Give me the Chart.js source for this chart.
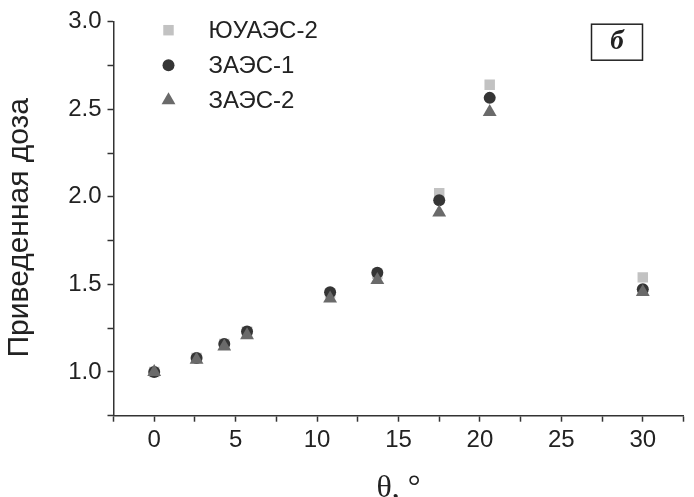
<!DOCTYPE html>
<html>
<head>
<meta charset="utf-8">
<title>Приведенная доза</title>
<script src="https://cdn.jsdelivr.net/npm/chart.js"></script>
<style>
  html, body { margin: 0; padding: 0; background: #fff; }
  #wrap { width: 694px; height: 497px; position: relative; }
</style>
</head>
<body>
<div id="wrap"><canvas id="doseChart"></canvas></div>
<script>
// Angle θ, degrees
const theta = [0, 2.6, 4.3, 5.7, 10.8, 13.7, 17.5, 20.6, 30];

// Normalised dose for each plant unit
const yuaes2 = [1.0, 1.08, 1.16, 1.23, 1.45, 1.56, 2.02, 2.64, 1.54];
const zaes1 = [1.0, 1.08, 1.16, 1.231, 1.455, 1.567, 1.98, 2.565, 1.472];
const zaes2 = [1.0, 1.07, 1.145, 1.21, 1.42, 1.525, 1.91, 2.485, 1.457];

const seriesNames = ['ЮУАЭС-2', 'ЗАЭС-1', 'ЗАЭС-2'];

// Axis ranges / ticks
const xTicks = [0, 5, 10, 15, 20, 25, 30];
const yTicks = [1.0, 1.5, 2.0, 2.5, 3.0];

const INK = '#222';
const SANS = "'Liberation Sans', Arial, sans-serif";
const SERIF = "'Liberation Serif', 'Times New Roman', serif";

const toPoints = (vals) => theta.map((t, i) => ({ x: t, y: vals[i] }));

const styles = [
    { color: '#c2c2c2', pointStyle: 'rect', radius: 7.4, order: 3 },
    { color: '#353535', pointStyle: 'circle', radius: 6, order: 2 },
    { color: '#6a6a6a', pointStyle: 'triangle', radius: 8, order: 1 }
];

const datasets = [yuaes2, zaes1, zaes2].map((vals, i) => ({
    label: seriesNames[i],
    data: toPoints(vals),
    pointStyle: styles[i].pointStyle,
    pointRadius: styles[i].radius,
    pointHoverRadius: styles[i].radius,
    pointBackgroundColor: styles[i].color,
    pointBorderWidth: 0,
    order: styles[i].order,
    showLine: false
}));

// Draw one marker shape
function marker(ctx, style, x, y) {
    const r = style.radius;
    ctx.fillStyle = style.color;
    ctx.beginPath();
    if (style.pointStyle === 'rect') {
        const s = r * Math.SQRT1_2;
        ctx.rect(x - s, y - s, 2 * s, 2 * s);
    } else if (style.pointStyle === 'circle') {
        ctx.arc(x, y, r, 0, Math.PI * 2);
    } else {
        ctx.moveTo(x, y - r);
        ctx.lineTo(x + r * Math.sin(Math.PI / 3), y + r / 2);
        ctx.lineTo(x - r * Math.sin(Math.PI / 3), y + r / 2);
        ctx.closePath();
    }
    ctx.fill();
}

// Legend inside the plot, panel letter box, y title
const overlay = {
    id: 'overlay',
    afterDraw(chart) {
        const ctx = chart.ctx;
        const area = chart.chartArea;
        ctx.save();

        seriesNames.forEach((name, i) => {
            const y = area.top + 8.5 + i * 35;
            marker(ctx, styles[i], area.left + 55, y);
            ctx.fillStyle = INK;
            ctx.font = '24px ' + SANS;
            ctx.textAlign = 'left';
            ctx.textBaseline = 'middle';
            ctx.fillText(name, area.left + 95, y + 1);
        });

        const bx = area.right - 92, by = area.top + 2.5, bw = 51, bh = 36;
        ctx.strokeStyle = INK;
        ctx.lineWidth = 1.5;
        ctx.strokeRect(bx, by, bw, bh);
        ctx.fillStyle = INK;
        ctx.font = 'italic bold 27px ' + SERIF;
        ctx.textAlign = 'center';
        ctx.textBaseline = 'middle';
        ctx.fillText('б', bx + bw / 2, by + bh / 2);

        // rotated axis title, a bit below the plot centre
        ctx.translate(20, (area.top + area.bottom) / 2 + 9);
        ctx.rotate(-Math.PI / 2);
        ctx.font = '30px ' + SANS;
        ctx.fillText('Приведенная доза', 0, 0);

        ctx.restore();
    }
};

const isLabelled = (v, list) => list.some((t) => Math.abs(t - v) < 1e-6);

new Chart(document.getElementById('doseChart'), {
    type: 'scatter',
    data: { datasets: datasets },
    options: {
        responsive: true,
        maintainAspectRatio: false,
        animation: false,
        layout: { padding: { top: 21.7, right: 10.5, left: 0, bottom: 0 } },
        plugins: {
            legend: { display: false },
            tooltip: { enabled: false }
        },
        scales: {
            x: {
                type: 'linear',
                min: -2.5,
                max: 32.5,
                afterFit: (s) => { s.height = 81.3; },
                border: { color: '#333', width: 1.5 },
                grid: { drawOnChartArea: false, tickLength: 6, tickColor: '#333', tickWidth: 1.5 },
                ticks: {
                    stepSize: 2.5,
                    autoSkip: false,
                    maxRotation: 0,
                    padding: 4,
                    color: INK,
                    font: { family: SANS, size: 24 },
                    callback: (v) => isLabelled(v, xTicks) ? String(Math.round(v)) : ''
                },
                title: {
                    display: true,
                    text: 'θ, °',
                    color: INK,
                    padding: 0,
                    font: { family: SERIF, size: 32, lineHeight: 0.54 }
                }
            },
            y: {
                min: 0.75,
                max: 3.0,
                afterFit: (s) => { s.width = 113.5; },
                border: { color: '#333', width: 1.5 },
                grid: { drawOnChartArea: false, tickLength: 6, tickColor: '#333', tickWidth: 1.5 },
                ticks: {
                    stepSize: 0.25,
                    autoSkip: false,
                    padding: 6,
                    color: INK,
                    font: { family: SANS, size: 24 },
                    callback: (v) => isLabelled(v, yTicks) ? v.toFixed(1) : ''
                }
            }
        }
    },
    plugins: [overlay]
});
</script>
</body>
</html>
